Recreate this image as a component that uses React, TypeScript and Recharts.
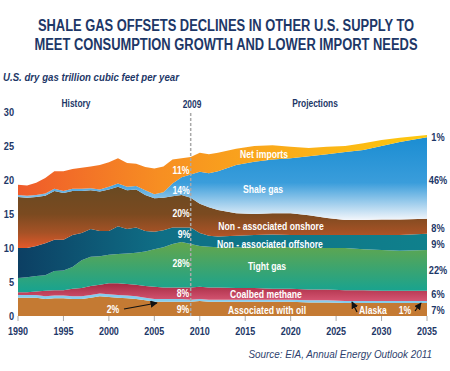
import { AreaChart, Area, XAxis, YAxis, ReferenceLine } from "recharts";

const years = [
  1990, 1991, 1992, 1993, 1994, 1995, 1996, 1997, 1998, 1999, 2000, 2001, 2002, 2003, 2004, 2005, 2006,
  2007, 2008, 2009, 2010, 2011, 2012, 2014, 2016, 2018, 2020, 2022, 2024, 2026, 2028, 2030, 2032, 2035,
];
const assocOil = [
  2.7, 2.7, 2.7, 2.5, 2.6, 2.6, 2.5, 2.5, 2.7, 2.9, 2.8, 2.7, 2.6, 2.5, 2.3, 2.1, 2.1, 2.1, 2.1, 2.1, 2.2,
  2.1, 2.1, 2.1, 2.1, 2.1, 2.1, 2.0, 2.0, 1.9, 1.9, 1.9, 1.9, 1.9,
];
const alaska = [
  0.4, 0.4, 0.4, 0.4, 0.4, 0.4, 0.4, 0.4, 0.4, 0.4, 0.4, 0.4, 0.4, 0.4, 0.4, 0.4, 0.4, 0.4, 0.4, 0.3, 0.3,
  0.3, 0.3, 0.3, 0.3, 0.3, 0.3, 0.3, 0.3, 0.3, 0.3, 0.3, 0.3, 0.3,
];
const coalbed = [
  0.4, 0.4, 0.5, 0.8, 0.8, 0.8, 1.1, 1.2, 1.3, 1.3, 1.6, 1.7, 1.7, 1.7, 1.7, 1.8, 1.7, 1.7, 1.7, 1.8, 1.8,
  1.8, 1.8, 1.7, 1.7, 1.6, 1.6, 1.6, 1.6, 1.6, 1.6, 1.5, 1.5, 1.5,
];
const tightGas = [
  2.1, 2.2, 2.3, 2.3, 2.8, 2.9, 3.2, 4.1, 4.3, 4.2, 4.2, 4.3, 4.5, 4.7, 5.1, 5.5, 5.9, 6.4, 6.7, 6.4, 6.0,
  6.0, 5.9, 6.0, 6.0, 6.2, 6.1, 6.1, 6.1, 6.2, 6.0, 6.0, 5.9, 6.0,
];
const offshore = [
  4.4, 4.3, 4.4, 4.7, 4.6, 4.5, 4.7, 4.0, 4.1, 3.7, 3.5, 4.1, 3.6, 3.7, 3.0, 2.6, 2.5, 2.4, 2.1, 2.4, 1.9,
  1.6, 1.6, 1.7, 1.8, 1.8, 1.8, 1.9, 1.9, 1.9, 2.1, 2.2, 2.3, 2.4,
];
const onshore = [
  7.5, 7.4, 7.2, 7.0, 7.2, 6.9, 6.5, 6.2, 5.7, 5.8, 6.1, 5.8, 5.7, 5.6, 5.3, 4.9, 4.8, 4.6, 4.8, 4.4, 4.3,
  4.2, 3.9, 3.3, 3.1, 3.1, 3.2, 2.9, 2.5, 2.2, 2.2, 2.3, 2.3, 2.2,
];
const shaleGas = [
  0.3, 0.3, 0.3, 0.3, 0.3, 0.3, 0.3, 0.3, 0.3, 0.3, 0.4, 0.5, 0.5, 0.5, 0.7, 0.6, 0.8, 1.9, 2.6, 3.4, 4.7,
  5.0, 5.7, 7.1, 7.7, 7.9, 8.1, 8.7, 9.4, 10.0, 10.3, 10.8, 11.4, 12.0,
];
const netImports = [
  1.5, 1.5, 1.8, 2.3, 2.6, 2.9, 2.9, 3.1, 3.2, 3.6, 3.6, 3.7, 3.5, 3.3, 3.4, 3.8, 3.8, 3.5, 2.8, 2.6, 2.8,
  2.8, 2.7, 2.4, 2.3, 2.1, 1.7, 1.2, 1.1, 0.9, 1.0, 0.9, 0.6, 0.3,
];
const xTicks = [1990, 1995, 2000, 2005, 2010, 2015, 2020, 2025, 2030, 2035];
const yTicks = [0, 5, 10, 15, 20, 25, 30];

const data = years.map((year, i) => ({
  year,
  assocOil: assocOil[i],
  alaska: alaska[i],
  coalbed: coalbed[i],
  tightGas: tightGas[i],
  offshore: offshore[i],
  onshore: onshore[i],
  shaleGas: shaleGas[i],
  netImports: netImports[i],
}));

const NAVY = "#1d3767";
const FONT = "'Liberation Sans', Arial, sans-serif";

const inLabels = [
  { t: "11%", x: 181, y: 170 },
  { t: "14%", x: 181, y: 190 },
  { t: "20%", x: 181, y: 213 },
  { t: "9%", x: 184, y: 234 },
  { t: "28%", x: 181, y: 263 },
  { t: "8%", x: 183, y: 293 },
  { t: "9%", x: 183, y: 309 },
  { t: "2%", x: 113, y: 309 },
  { t: "Net imports", x: 264, y: 154 },
  { t: "Shale gas", x: 263, y: 189 },
  { t: "Non - associated onshore", x: 271, y: 226 },
  { t: "Non - associated offshore", x: 270, y: 244 },
  { t: "Tight gas", x: 267, y: 266 },
  { t: "Coalbed methane", x: 266, y: 294 },
  { t: "Associated with oil", x: 267, y: 310 },
  { t: "Alaska", x: 373, y: 310 },
  { t: "1%", x: 405, y: 310 },
];

const rightLabels = [
  { t: "1%", y: 137 },
  { t: "46%", y: 180 },
  { t: "8%", y: 228 },
  { t: "9%", y: 244 },
  { t: "22%", y: 270 },
  { t: "6%", y: 294 },
  { t: "7%", y: 310 },
];

// condensed text: scale horizontally around the anchor point
const Txt = ({ x, y, sx = 0.75, size = 11.5, fill = "#fff", anchor = "middle", bold = true, italic = false, children }: any) => (
  <text
    transform={`translate(${x},${y}) scale(${sx},1)`}
    fontSize={size}
    fontWeight={bold ? 700 : 400}
    fontStyle={italic ? "italic" : "normal"}
    fill={fill}
    textAnchor={anchor}
  >
    {children}
  </text>
);

const XTick = ({ x, y, payload }: any) => (
  <g transform={`translate(${x},${y + 12})`}>
    <text transform="scale(0.78,1)" textAnchor="middle" fontSize={11.5} fontWeight={700} fill={NAVY} fontFamily={FONT}>
      {payload.value}
    </text>
  </g>
);

const YTick = ({ x, y, payload }: any) => (
  <g transform={`translate(${x - 1},${y + 4})`}>
    <text transform="scale(0.8,1)" textAnchor="end" fontSize={11.5} fontWeight={700} fill={NAVY} fontFamily={FONT}>
      {payload.value}
    </text>
  </g>
);

export default function App() {
  return (
    <div style={{ position: "absolute", left: 0, top: 0, width: 450, height: 371, background: "#fff" }}>
      <AreaChart
        width={450}
        height={371}
        data={data}
        margin={{ top: 112, right: 23, left: 0, bottom: 25 }}
      >
        <defs>
          <linearGradient id="gNet" x1="0" y1="0" x2="1" y2="0">
            <stop offset="0" stopColor="#ef5a2b" />
            <stop offset="0.35" stopColor="#f78f22" />
            <stop offset="0.6" stopColor="#faa81b" />
            <stop offset="1" stopColor="#fdc80e" />
          </linearGradient>
          <linearGradient id="gShale" x1="0" y1="0" x2="0" y2="1">
            <stop offset="0" stopColor="#1b8dd2" />
            <stop offset="0.55" stopColor="#3a9ddb" />
            <stop offset="1" stopColor="#f3f6fb" />
          </linearGradient>
          <linearGradient id="gOn" x1="0" y1="0" x2="0" y2="1">
            <stop offset="0" stopColor="#694a22" />
            <stop offset="0.45" stopColor="#7b4a20" />
            <stop offset="0.75" stopColor="#a65226" />
            <stop offset="1" stopColor="#e3592a" />
          </linearGradient>
          <linearGradient id="gOff" x1="0" y1="0" x2="1" y2="0">
            <stop offset="0" stopColor="#0c3f63" />
            <stop offset="0.35" stopColor="#0f6f86" />
            <stop offset="1" stopColor="#0f808c" />
          </linearGradient>
          <linearGradient id="gTight" x1="0" y1="0" x2="0" y2="1">
            <stop offset="0" stopColor="#65a64a" />
            <stop offset="1" stopColor="#17a391" />
          </linearGradient>
          <linearGradient id="gCoal" x1="0" y1="0" x2="0" y2="1">
            <stop offset="0" stopColor="#a52a42" />
            <stop offset="1" stopColor="#d65673" />
          </linearGradient>
        </defs>
        <XAxis
          dataKey="year"
          type="number"
          domain={[1990, 2035]}
          ticks={xTicks}
          height={30}
          axisLine={false}
          tickSize={5}
          tickLine={{ stroke: "#aaa" }}
          tick={<XTick />}
        />
        <YAxis
          domain={[0, 30]}
          ticks={yTicks}
          width={18}
          axisLine={false}
          tickLine={false}
          tickSize={0}
          tickMargin={3}
          tick={<YTick />}
        />
        <Area type="linear" dataKey="assocOil" stackId="1" stroke="none" fill="#c47a33" fillOpacity={1} isAnimationActive={false} />
        <Area type="linear" dataKey="alaska" stackId="1" stroke="none" fill="#86cdee" fillOpacity={1} isAnimationActive={false} />
        <Area type="linear" dataKey="coalbed" stackId="1" stroke="none" fill="url(#gCoal)" fillOpacity={1} isAnimationActive={false} />
        <Area type="linear" dataKey="tightGas" stackId="1" stroke="none" fill="url(#gTight)" fillOpacity={1} isAnimationActive={false} />
        <Area type="linear" dataKey="offshore" stackId="1" stroke="none" fill="url(#gOff)" fillOpacity={1} isAnimationActive={false} />
        <Area type="linear" dataKey="onshore" stackId="1" stroke="none" fill="url(#gOn)" fillOpacity={1} isAnimationActive={false} />
        <Area type="linear" dataKey="shaleGas" stackId="1" stroke="none" fill="url(#gShale)" fillOpacity={1} isAnimationActive={false} />
        <Area type="linear" dataKey="netImports" stackId="1" stroke="none" fill="url(#gNet)" fillOpacity={1} isAnimationActive={false} />
        <ReferenceLine x={2009} stroke="#a9a9a9" strokeWidth={1.5} strokeDasharray="3 2" />
      </AreaChart>

      <svg
        width={450}
        height={371}
        style={{ position: "absolute", left: 0, top: 0, pointerEvents: "none" }}
        fontFamily={FONT}
      >
        <defs>
          <marker id="arr" viewBox="0 0 10 10" refX="9" refY="5" markerWidth="6" markerHeight="6" orient="auto">
            <path d="M0,0 L10,5 L0,10 z" fill="#111" />
          </marker>
        </defs>
        <Txt x={226} y={31} size={17} sx={0.76} fill={NAVY}>
          SHALE GAS OFFSETS DECLINES IN OTHER U.S. SUPPLY TO
        </Txt>
        <Txt x={226} y={50} size={17} sx={0.76} fill={NAVY}>
          MEET CONSUMPTION GROWTH AND LOWER IMPORT NEEDS
        </Txt>
        <Txt x={3} y={81} size={10.5} sx={0.92} italic fill={NAVY} anchor="start">
          U.S. dry gas trillion cubic feet per year
        </Txt>
        <Txt x={76} y={107} size={10.5} sx={0.8} fill={NAVY}>History</Txt>
        <Txt x={192} y={108} size={10.5} sx={0.8} fill={NAVY}>2009</Txt>
        <Txt x={315} y={107} size={10.5} sx={0.8} fill={NAVY}>Projections</Txt>
        {inLabels.map((l, i) => (
          <Txt key={i} x={l.x} y={l.y + 4}>
            {l.t}
          </Txt>
        ))}
        {rightLabels.map((l, i) => (
          <Txt key={i} x={438} y={l.y + 4} fill={NAVY} sx={0.8}>
            {l.t}
          </Txt>
        ))}
        <line x1={124} y1={309} x2={157} y2={303} stroke="#111" strokeWidth={1.2} markerEnd="url(#arr)" />
        <line x1={357} y1={312} x2={352} y2={302} stroke="#111" strokeWidth={1.2} markerEnd="url(#arr)" />
        <line x1={415} y1={311} x2={421} y2={303} stroke="#111" strokeWidth={1.2} markerEnd="url(#arr)" />
        <Txt x={432} y={358} size={11} sx={0.9} bold={false} italic fill="#2e3f6e" anchor="end">
          Source:  EIA, Annual Energy Outlook 2011
        </Txt>
      </svg>
    </div>
  );
}
